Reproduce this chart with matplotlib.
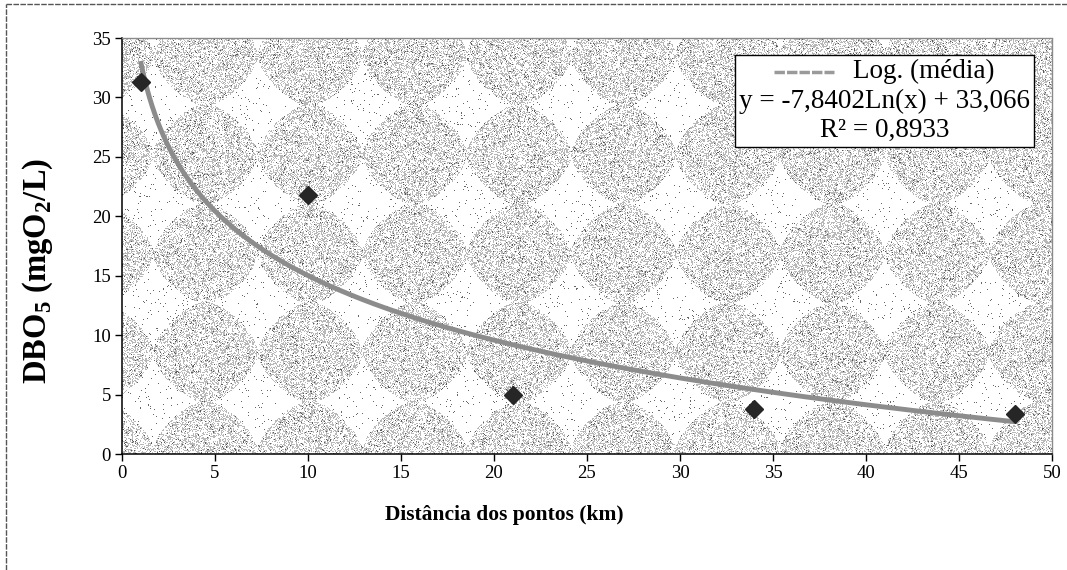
import numpy as np
import matplotlib
matplotlib.use("Agg")
import matplotlib.pyplot as plt
from matplotlib.lines import Line2D
from matplotlib.offsetbox import (AnchoredOffsetbox, DrawingArea, HPacker,
                                  TextArea, VPacker)

plt.rcParams['font.family'] = ['Liberation Serif', 'DejaVu Serif']
plt.rcParams['mathtext.fontset'] = 'custom'
plt.rcParams['mathtext.rm'] = 'Liberation Serif'
plt.rcParams['mathtext.bf'] = 'Liberation Serif:bold'

# pontos medidos: distancia (km) x DBO5 (mgO2/L)
distancia = [1, 10, 21, 34, 48]
dbo5 = [31.3, 21.8, 5.0, 3.8, 3.4]

# linha de tendencia logaritmica
coef_a = -7.8402
coef_b = 33.066
r2 = 0.8933

x_ticks = list(range(0, 51, 5))
y_ticks = list(range(0, 36, 5))

fig = plt.figure(figsize=(10.67, 5.70), dpi=100)
ax = fig.add_axes((0.1143, 0.2035, 0.8716, 0.7298))

# fundo com losangos pontilhados (estilo textura do Excel)
H, W = 416, 930
rr, cc = np.mgrid[0:H, 0:W]
dx = ((cc - 83 + 52.25) % 104.5) - 52.25
dy = ((rr - 17 + 49.5) % 99.0) - 49.5
p = 1.5
d = (np.abs(dx / 53.0) ** p + np.abs(dy / 51.0) ** p) ** (1 / p)
dentro = d < 1.0
rng = np.random.default_rng(7)
u = rng.random((H, W))
fundo = np.ones((H, W))
fundo[dentro & (u < 0.38)] = 0.72
fundo[dentro & (u >= 0.38) & (u < 0.42)] = 0.35
fundo[~dentro & (u < 0.02)] = 0.4
ax.imshow(fundo, cmap='gray', vmin=0, vmax=1, extent=(0, 50, 0, 35),
          aspect='auto', interpolation='nearest', zorder=0)

xs = np.linspace(1, 48, 300)
ax.plot(xs, coef_a * np.log(xs) + coef_b, color='#8c8c8c', lw=3.5,
        solid_capstyle='butt', zorder=2)
ax.plot(distancia, dbo5, linestyle='none', marker='D', markersize=9,
        color='#262626', zorder=3)

ax.set_xlim(0, 50)
ax.set_ylim(0, 35)
ax.set_xticks(x_ticks)
ax.set_yticks(y_ticks)
ax.tick_params(direction='out', length=5, width=1, labelsize=13.5, pad=3,
               color='black')

for s in ('top', 'right'):
    ax.spines[s].set_color('#8a8a8a')
    ax.spines[s].set_linestyle((0, (2, 1)))
    ax.spines[s].set_linewidth(1.0)
for s in ('left', 'bottom'):
    ax.spines[s].set_color('black')
    ax.spines[s].set_linewidth(1.1)

ax.set_xlabel('Distância dos pontos (km)', fontsize=15.5, fontweight='bold')
ax.xaxis.set_label_coords(0.411, -0.122)
ax.set_ylabel(r'DBO$_\mathbf{5}$ (mgO$_\mathbf{2}$/L)', fontsize=23.5,
              fontweight='bold')
ax.yaxis.set_label_coords(-0.072, 0.44)

# caixa da legenda com equacao e R2
amostra = DrawingArea(43, 10)
amostra.add_artist(Line2D([0, 43], [5, 5], color='#9a9a9a', lw=2.5,
                          linestyle=(0, (3, 0.6))))
tprops = dict(fontsize=19.5, color='black')
linha1 = HPacker(children=[amostra, TextArea('Log. (média)', textprops=tprops)],
                 align='center', pad=0, sep=14)
eq = TextArea('y = {:.4f}Ln(x) + {:.3f}'.format(coef_a, coef_b).replace('.', ','),
              textprops=tprops)
rq = TextArea('R² = {:.4f}'.format(r2).replace('.', ','), textprops=tprops)
caixa = VPacker(children=[linha1, eq, rq], align='center', pad=0, sep=3)
leg = AnchoredOffsetbox(loc='upper right', child=caixa, pad=0.3, borderpad=0,
                        frameon=True, bbox_to_anchor=(0.981, 0.959),
                        bbox_transform=ax.transAxes)
leg.patch.set_facecolor('white')
leg.patch.set_edgecolor('black')
leg.patch.set_linewidth(1.0)
leg.set_zorder(5)
ax.add_artist(leg)

# moldura externa do grafico
fig.add_artist(Line2D([0.0056, 1.0], [0.993, 0.993], color='#555555', lw=1.0,
                      linestyle=(0, (4, 1)), transform=fig.transFigure))
fig.add_artist(Line2D([0.0056, 0.0056], [0.0, 0.993], color='#555555', lw=1.0,
                      linestyle=(0, (4, 1)), transform=fig.transFigure))

fig.savefig('out.png', dpi=100)
